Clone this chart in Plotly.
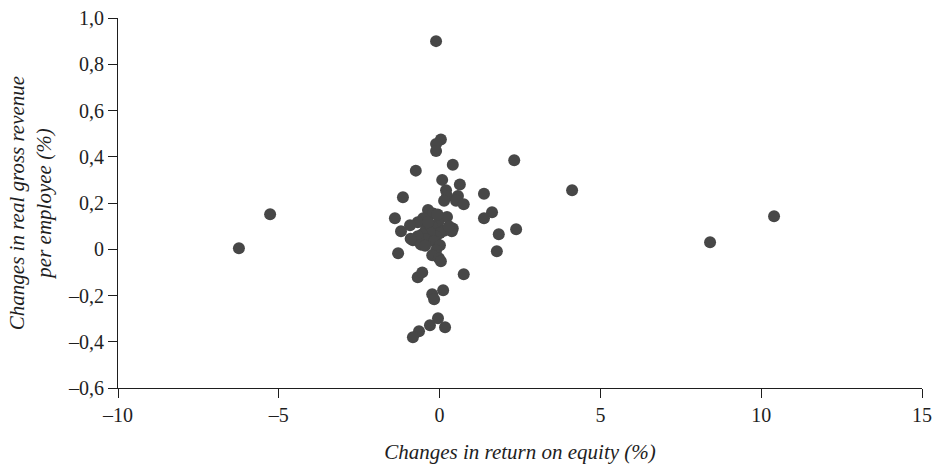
import plotly.graph_objects as go

# Changes in return on equity (%)
roe_change = [
    -0.11, 0.04, -0.11, -0.11, 0.41, -0.74, 2.32, 4.12, 0.08, 0.63,
    1.38, -1.14, 0.20, 0.23, 0.14, 0.57, 0.51, 0.75, 1.63, 1.38,
    -5.27, 10.40, -1.39, -0.36, -0.20, 0.01, 0.23, -0.51, -0.68, -0.92,
    -1.20, 0.41, -0.05, -0.23, -0.42, 0.14, 0.01, -0.11, -0.30, -0.54,
    -0.83, -0.61, -0.42, -0.17, 0.01, -0.11, -0.23, -0.02, 0.04, -1.29,
    1.84, 2.38, 1.78, -6.24, 8.41, 0.75, -0.68, -0.54, -0.23, -0.17,
    0.11, -0.05, -0.30, 0.17, -0.64, -0.83, -0.36, 0.38, -0.68, -0.90,
    -0.58, -0.45, 0.29, -0.06
]
# Changes in real gross revenue per employee (%)
revenue_change = [
    0.900, 0.475, 0.455, 0.425, 0.365, 0.340, 0.385, 0.255, 0.300, 0.280,
    0.240, 0.225, 0.255, 0.230, 0.210, 0.230, 0.210, 0.195, 0.160, 0.134,
    0.151, 0.143, 0.134, 0.170, 0.155, 0.135, 0.140, 0.134, 0.117, 0.104,
    0.078, 0.090, 0.112, 0.100, 0.090, 0.080, 0.070, 0.056, 0.073, 0.065,
    0.039, 0.030, 0.043, 0.035, 0.017, -0.005, -0.026, -0.039, -0.052, -0.017,
    0.065, 0.086, -0.009, 0.004, 0.030, -0.108, -0.121, -0.100, -0.195, -0.216,
    -0.177, -0.298, -0.329, -0.337, -0.355, -0.381, 0.117, 0.078, 0.056, 0.045,
    0.020, 0.015, 0.100, 0.150
]

x_tickvals = [-10, -5, 0, 5, 10, 15]
x_ticktext = ["\u201310", "\u20135", "0", "5", "10", "15"]
y_tickvals = [1.0, 0.8, 0.6, 0.4, 0.2, 0.0, -0.2, -0.4, -0.6]
y_ticktext = ["1,0", "0,8", "0,6", "0,4", "0,2", "0", "\u20130,2", "\u20130,4", "\u20130,6"]

fig = go.Figure()
fig.add_trace(go.Scatter(
    x=roe_change, y=revenue_change, mode="markers",
    marker=dict(size=12, color="#474747", line=dict(width=0)),
    showlegend=False, hoverinfo="x+y",
))

font_family = "Times New Roman, Tinos, Liberation Serif, DejaVu Serif, serif"
fig.update_layout(
    width=934, height=465, autosize=False,
    margin=dict(l=118, r=12, t=18, b=77, pad=0),
    paper_bgcolor="white", plot_bgcolor="white",
    font=dict(family=font_family, size=20, color="#1e1e1e"),
    xaxis=dict(
        range=[-10, 15], tickvals=x_tickvals, ticktext=x_ticktext,
        showgrid=False, zeroline=False, showline=True, linecolor="#1e1e1e", linewidth=1,
        ticks="outside", ticklen=9, tickcolor="#1e1e1e", automargin=False,
        title=dict(text="<i>Changes in return on equity (%)</i>", standoff=19,
                   font=dict(family=font_family, size=21)),
    ),
    yaxis=dict(
        range=[-0.6, 1.0], tickvals=y_tickvals, ticktext=y_ticktext,
        showgrid=False, zeroline=False, showline=True, linecolor="#1e1e1e", linewidth=1,
        ticks="outside", ticklen=9, tickcolor="#1e1e1e", automargin=False,
        title=dict(text="<i>Changes in real gross revenue<br>per employee (%)</i>", standoff=10,
                   font=dict(family=font_family, size=21)),
    ),
)

fig.write_html("out.html")
